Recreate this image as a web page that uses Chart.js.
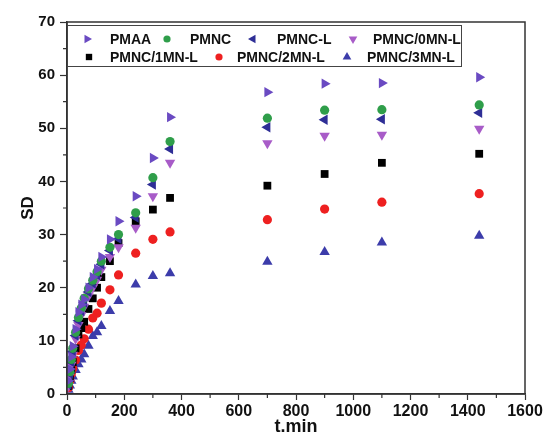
<!DOCTYPE html>
<html>
<head>
<meta charset="utf-8">
<script src="https://cdn.jsdelivr.net/npm/chart.js@4.4.1/dist/chart.umd.min.js"></script>
<style>
    html, body { margin: 0; padding: 0; background: #fff; }
    #wrap { width: 548px; height: 435px; }
</style>
</head>
<body>
<div id="wrap"><canvas id="c"></canvas></div>
<script>
"use strict";

// sampling times (min)
var times = [5, 10, 15, 20, 30, 40, 50, 60, 75, 90, 105, 120, 150, 180, 240, 300, 360, 700, 900, 1100, 1440];

// swelling degree of each sample
var pmaa    = [2.5, 4.7, 7.0, 9.0, 12.2, 15.4, 16.8, 17.8, 20.0, 22.0, 23.5, 25.8, 29.1, 32.5, 37.2, 44.4, 52.1, 56.8, 58.4, 58.5, 59.6];
var pmnc    = [2.0, 4.2, 6.5, 8.6, 11.6, 14.4, 16.2, 18.0, 19.8, 21.4, 23.0, 25.0, 27.6, 30.0, 34.1, 40.7, 47.5, 51.9, 53.4, 53.5, 54.4];
var pmncL   = [1.8, 3.8, 6.0, 8.0, 11.0, 13.8, 15.6, 17.2, 19.2, 20.8, 22.4, 24.4, 27.0, 29.2, 33.2, 39.4, 46.1, 50.2, 51.6, 51.7, 52.9];
var mn0     = [1.5, 3.5, 5.5, 7.4, 10.4, 13.0, 14.8, 16.4, 18.4, 20.0, 21.5, 23.4, 25.8, 27.6, 31.3, 37.2, 43.5, 47.2, 48.6, 48.8, 49.9];
var mn1     = [1.5, 3.0, 4.5, 6.0, 8.6, 11.2, 12.4, 13.6, 16.0, 18.0, 20.0, 22.0, 25.0, 28.4, 32.5, 34.7, 36.9, 39.2, 41.4, 43.5, 45.2];
var mn2     = [1.2, 2.5, 3.8, 4.8, 6.4, 8.2, 9.2, 10.4, 12.2, 14.3, 15.2, 17.1, 19.6, 22.4, 26.5, 29.1, 30.5, 32.8, 34.8, 36.1, 37.7];
var mn3     = [0.8, 1.6, 2.5, 3.3, 4.5, 5.6, 6.5, 7.5, 9.1, 10.9, 11.6, 12.8, 15.6, 17.5, 20.6, 22.2, 22.7, 24.9, 26.7, 28.5, 29.8];

var xTicksMinor = [100, 300, 500, 700, 900, 1100, 1300, 1500];
var yTicksMinor = [5, 15, 25, 35, 45, 55, 65];

function pts(values) {
    return values.map(function (v, i) {
        return { x: times[i], y: v };
    });
}

function series(label, values, color, style, rotation, radius) {
    return {
        label: label,
        data: pts(values),
        showLine: false,
        pointStyle: style,
        rotation: rotation,
        pointRadius: radius,
        pointBorderWidth: 0,
        pointBackgroundColor: color,
        pointBorderColor: color,
        backgroundColor: color,
        borderColor: color
    };
}

var datasets = [
    series("PMAA", pmaa, "#6a4ac2", "triangle", 90, 6),
    series("PMNC", pmnc, "#2f9e4a", "circle", 0, 4.6),
    series("PMNC-L", pmncL, "#2e2e96", "triangle", -90, 6),
    series("PMNC/0MN-L", mn0, "#a85cc8", "triangle", 180, 6),
    series("PMNC/1MN-L", mn1, "#000000", "rect", 0, 5.5),
    series("PMNC/2MN-L", mn2, "#ee2020", "circle", 0, 4.6),
    series("PMNC/3MN-L", mn3, "#3c3caa", "triangle", 0, 6)
];

var boldFont = "'Liberation Sans', Arial, sans-serif";

// legend inside the plot, two rows, with a frame
var legendSlots = [
    { mx: 87, tx: 110, y: 39 },
    { mx: 167, tx: 190, y: 39 },
    { mx: 253, tx: 277, y: 39 },
    { mx: 353, tx: 373, y: 39 },
    { mx: 89, tx: 110, y: 57 },
    { mx: 219, tx: 237, y: 57 },
    { mx: 347, tx: 367, y: 57 }
];

var framePlugin = {
    id: "frame",
    afterDraw: function (chart) {
        var ctx = chart.ctx;
        var a = chart.chartArea;
        var xs = chart.scales.x;
        var ys = chart.scales.y;
        ctx.save();
        ctx.strokeStyle = "#333";
        ctx.lineWidth = 1.5;
        ctx.strokeRect(a.left, a.top, a.right - a.left, a.bottom - a.top);

        // minor ticks
        ctx.lineWidth = 1.2;
        ctx.beginPath();
        xTicksMinor.forEach(function (v) {
            var px = xs.getPixelForValue(v);
            ctx.moveTo(px, a.bottom);
            ctx.lineTo(px, a.bottom + 4);
        });
        yTicksMinor.forEach(function (v) {
            var py = ys.getPixelForValue(v);
            ctx.moveTo(a.left, py);
            ctx.lineTo(a.left - 4, py);
        });
        ctx.stroke();

        // legend
        ctx.strokeStyle = "#444";
        ctx.lineWidth = 1;
        ctx.strokeRect(67.5, 25.5, 394, 41);
        ctx.font = "bold 14px " + boldFont;
        ctx.textBaseline = "middle";
        ctx.textAlign = "left";
        chart.data.datasets.forEach(function (ds, i) {
            var s = legendSlots[i];
            ctx.fillStyle = ds.pointBackgroundColor;
            ctx.strokeStyle = ds.pointBackgroundColor;
            Chart.helpers.drawPoint(ctx, {
                pointStyle: ds.pointStyle,
                rotation: ds.rotation,
                radius: ds.pointRadius - 1,
                borderWidth: 0
            }, s.mx, s.y);
            ctx.fillStyle = "#111";
            ctx.fillText(ds.label, s.tx, s.y + 1);
        });
        ctx.restore();
    }
};

new Chart(document.getElementById("c"), {
    type: "scatter",
    data: { datasets: datasets },
    options: {
        responsive: true,
        maintainAspectRatio: false,
        animation: false,
        layout: {
            padding: { top: 22, right: 23, left: 0, bottom: 0 }
        },
        plugins: {
            legend: { display: false },
            tooltip: { enabled: false }
        },
        scales: {
            x: {
                type: "linear",
                min: 0,
                max: 1600,
                afterFit: function (scale) { scale.height = 41; },
                ticks: {
                    stepSize: 200,
                    padding: 2,
                    color: "#111",
                    font: { family: boldFont, weight: "bold", size: 16 },
                    callback: function (value) { return String(value); }
                },
                grid: {
                    drawOnChartArea: false,
                    tickLength: 6,
                    tickWidth: 1.2,
                    tickColor: "#333"
                },
                border: { display: true, color: "#333", width: 1.5 },
                title: {
                    display: true,
                    text: "t.min",
                    color: "#111",
                    padding: { top: 0, bottom: -3 },
                    font: { family: boldFont, weight: "bold", size: 18 }
                }
            },
            y: {
                min: 0,
                max: 70,
                afterFit: function (scale) { scale.width = 67; },
                ticks: {
                    stepSize: 10,
                    padding: 5,
                    color: "#111",
                    font: { family: boldFont, weight: "bold", size: 15 }
                },
                grid: {
                    drawOnChartArea: false,
                    tickLength: 7,
                    tickWidth: 1.2,
                    tickColor: "#333"
                },
                border: { display: true, color: "#333", width: 1.5 },
                title: {
                    display: true,
                    text: "SD",
                    color: "#111",
                    padding: { top: 18, bottom: 0 },
                    font: { family: boldFont, weight: "bold", size: 17 }
                }
            }
        }
    },
    plugins: [framePlugin]
});
</script>
</body>
</html>
